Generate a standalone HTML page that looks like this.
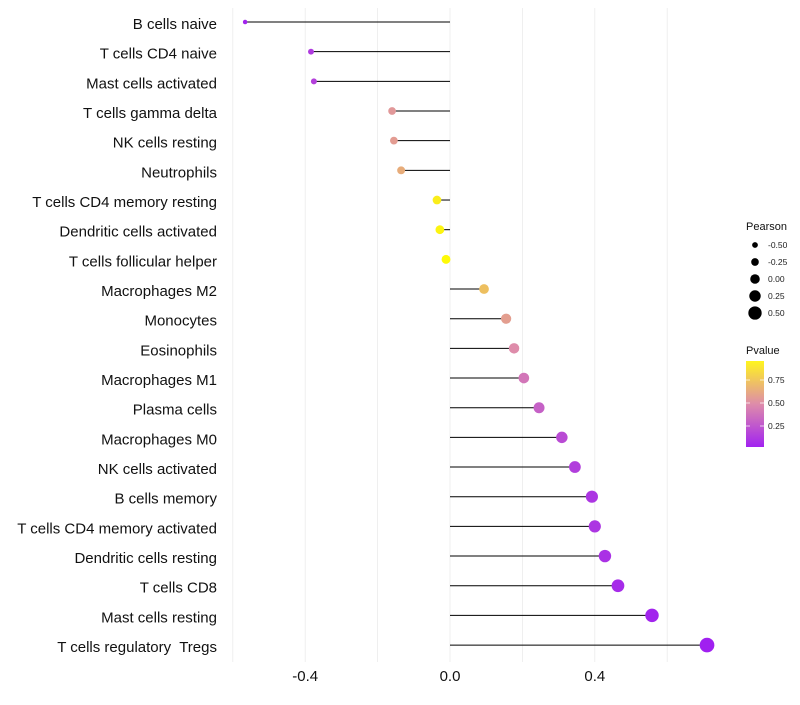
<!DOCTYPE html>
<html><head><meta charset="utf-8"><style>
body{margin:0;background:#fff;font-family:"Liberation Sans",sans-serif}
</style></head><body>
<svg id="c" width="800" height="700" xmlns="http://www.w3.org/2000/svg"></svg>
<script>
const categories=["B cells naive","T cells CD4 naive","Mast cells activated","T cells gamma delta","NK cells resting","Neutrophils","T cells CD4 memory resting","Dendritic cells activated","T cells follicular helper","Macrophages M2","Monocytes","Eosinophils","Macrophages M1","Plasma cells","Macrophages M0","NK cells activated","B cells memory","T cells CD4 memory activated","Dendritic cells resting","T cells CD8","Mast cells resting","T cells regulatory  Tregs"];
const pearson=[-0.566,-0.384,-0.376,-0.16,-0.155,-0.135,-0.036,-0.028,-0.011,0.094,0.155,0.177,0.204,0.246,0.309,0.345,0.392,0.4,0.428,0.464,0.558,0.71];
const pvalue=[0.02,0.12,0.15,0.55,0.57,0.64,0.92,0.95,0.98,0.72,0.58,0.5,0.4,0.3,0.2,0.14,0.1,0.1,0.08,0.05,0.02,0.0];
const xTicks=[-0.4,0.0,0.4];
const xTickLabels=["-0.4","0.0","0.4"];
const grid=[-0.6,-0.4,-0.2,0,0.2,0.4,0.6];
const sizeLegend=[-0.5,-0.25,0,0.25,0.5];
const sizeLegendLabels=["-0.50","-0.25","0.00","0.25","0.50"];
const colorLegend=[0.75,0.5,0.25];
const colorLegendLabels=["0.75","0.50","0.25"];

const svg=document.getElementById('c');const NS="http://www.w3.org/2000/svg";
const x=v=>450+v*362;
const y=i=>22+i*29.67;
const r=v=>4.5+4*v;
function lerp(a,b,t){return a.map((c,k)=>Math.round(c+(b[k]-c)*t));}
function col(p){const lo=[160,32,240],mid=[222,140,170],hi=[255,255,0];
 const c=p<0.5?lerp(lo,mid,p/0.5):lerp(mid,hi,(p-0.5)/0.5);return `rgb(${c})`;}
function el(t,a,txt){const e=document.createElementNS(NS,t);for(const k in a)e.setAttribute(k,a[k]);if(txt!==undefined)e.textContent=txt;svg.appendChild(e);return e;}

grid.forEach(g=>{const e=el('line',{x1:x(g),x2:x(g),y1:8,y2:662,stroke:'#ebebeb','stroke-width':0.8});

});
xTicks.forEach((t,i)=>{const e=el('text',{x:x(t),y:681,'text-anchor':'middle','font-size':15,fill:'#111'},xTickLabels[i]);

});
categories.forEach((c,i)=>{
 const l=el('text',{x:217,y:y(i)+7,'text-anchor':'end','font-size':15,fill:'#111',style:'white-space:pre'},c);
 
 
 const s=el('line',{x1:x(0),x2:x(pearson[i]),y1:y(i),y2:y(i),stroke:'#000','stroke-width':1});
 
 
 const d=el('circle',{cx:x(pearson[i]),cy:y(i),r:r(pearson[i]),fill:col(pvalue[i])});
 
 
});
let t=el('text',{x:746,y:230,'font-size':11,fill:'#111'},'Pearson');


sizeLegend.forEach((v,i)=>{const yy=245+i*17;
 const c=el('circle',{cx:755,cy:yy,r:r(v)*0.95+0.5,fill:'#000'});
 
 
 const tx=el('text',{x:768,y:yy+3,'font-size':8.5,fill:'#222'},sizeLegendLabels[i]);
 
 });
t=el('text',{x:746,y:354,'font-size':11,fill:'#111'},'Pvalue');


const defs=el('defs',{});
defs.innerHTML='<linearGradient id="g" x1="0" y1="1" x2="0" y2="0"><stop offset="0" stop-color="rgb(162,35,240)"/><stop offset="0.5" stop-color="rgb(222,140,170)"/><stop offset="1" stop-color="rgb(255,245,30)"/></linearGradient>';
const bar=el('rect',{x:746,y:361,width:18,height:86,fill:'url(#g)'});


const cy=p=>449-p*92;
colorLegend.forEach((v,i)=>{
 el('line',{x1:746,x2:750,y1:cy(v),y2:cy(v),stroke:'#fff','stroke-width':0.7});
 el('line',{x1:760,x2:764,y1:cy(v),y2:cy(v),stroke:'#fff','stroke-width':0.7});
 const tx=el('text',{x:768,y:cy(v)+3,'font-size':8.5,fill:'#222'},colorLegendLabels[i]);
 
 });
</script>
</body></html>
